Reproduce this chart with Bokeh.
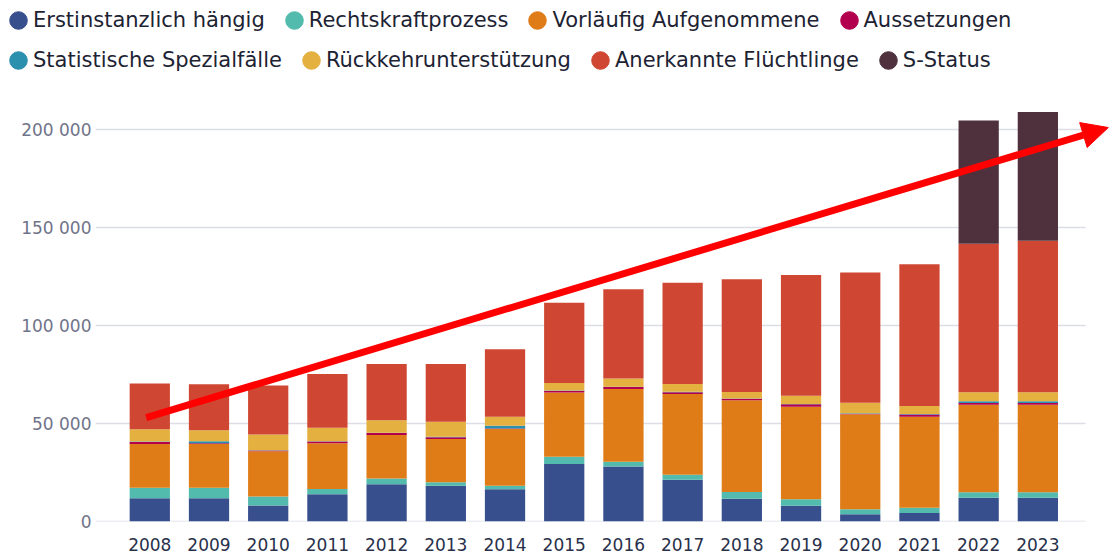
from bokeh.plotting import figure
from bokeh.layouts import column
from bokeh.models import (ColumnDataSource, Legend, LegendItem, FixedTicker, Range1d,
                          Arrow, NormalHead)
from bokeh.embed import file_html
from bokeh.resources import INLINE

years = list(range(2008, 2024))
erstinstanzlich = [11900, 11900, 8200, 13900, 19000, 18200, 16500, 29400, 28100, 21300, 11600, 8000, 3700, 4300, 12100, 12100]
rechtskraft = [5300, 5300, 4600, 2700, 3000, 1800, 1800, 3700, 2400, 2600, 3400, 3400, 2500, 2700, 2800, 2800]
vorlaeufig = [22400, 22400, 23100, 23300, 22100, 22100, 28900, 32700, 37100, 41100, 46800, 47200, 48500, 46400, 44700, 44700]
aussetzungen = [1000, 300, 300, 900, 1000, 900, 300, 800, 1000, 1000, 800, 1200, 300, 1200, 800, 800]
statistische = [200, 1000, 200, 200, 200, 200, 1300, 200, 200, 200, 200, 200, 200, 200, 900, 900]
rueckkehr = [6300, 5600, 8000, 6800, 6400, 7700, 4700, 3900, 4200, 3900, 3300, 4100, 5400, 4100, 4600, 4600]
anerkannte = [23300, 23500, 25000, 27500, 28600, 29400, 34400, 40900, 45500, 51700, 57500, 61700, 66500, 72300, 75800, 77400]
s_status = [0, 0, 0, 0, 0, 0, 0, 0, 0, 0, 0, 0, 0, 0, 62900, 65600]

series_keys = ["erst", "recht", "vorl", "auss", "stat", "rueck", "anerk", "sst"]
series_labels = ["Erstinstanzlich hängig", "Rechtskraftprozess", "Vorläufig Aufgenommene", "Aussetzungen",
                 "Statistische Spezialfälle", "Rückkehrunterstützung", "Anerkannte Flüchtlinge", "S-Status"]
series_colors = ["#384f8d", "#52bbad", "#e07c17", "#b2004e", "#2b8fae", "#e4b03f", "#cf4733", "#4e313d"]

y_ticks = [0, 50000, 100000, 150000, 200000]
y_tick_labels = ["0", "50 000", "100 000", "150 000", "200 000"]

# trend arrow annotation (data units)
arrow_start = (2007.94, 53000)
arrow_end = (2024.19, 201000)

X_START, GRID_END, X_END = 2007.083, 2023.806, 2024.21

source = ColumnDataSource(dict(year=years, erst=erstinstanzlich, recht=rechtskraft, vorl=vorlaeufig,
                               auss=aussetzungen, stat=statistische, rueck=rueckkehr, anerk=anerkannte,
                               sst=s_status))

# ---------- legend figure ----------
LEG_H = 92
lf = figure(width=1109, height=LEG_H, output_backend="svg", toolbar_location=None,
            x_axis_type=None, y_axis_type=None, x_range=Range1d(0, 1), y_range=Range1d(0, 1),
            min_border=0)
lf.frame_align = False
lf.outline_line_color = None
lf.xgrid.grid_line_color = None
lf.ygrid.grid_line_color = None
nan = float("nan")
dummies = [lf.ellipse(x=[nan], y=[nan], width=18, height=18, width_units="screen", height_units="screen",
                      fill_color=c, line_color=c) for c in series_colors]

def make_legend(idx, loc):
    return Legend(items=[LegendItem(label=series_labels[i], renderers=[dummies[i]]) for i in idx],
                  orientation="horizontal", location=loc,
                  label_text_font="DejaVu Sans", label_text_font_size="21px", label_text_color="#1d2333",
                  glyph_width=22, glyph_height=24, label_height=24, label_standoff=4, spacing=18,
                  padding=0, margin=0, border_line_color=None, background_fill_alpha=0)

lf.add_layout(make_legend([0, 1, 2, 3], (7, 60)))
lf.add_layout(make_legend([4, 5, 6, 7], (7, 20)))

# ---------- main chart ----------
p = figure(width=1109, height=555 - LEG_H, output_backend="svg", toolbar_location=None,
           x_range=Range1d(X_START, X_END), y_range=Range1d(0, 214800),
           min_border_left=95, min_border_right=0, min_border_top=8, min_border_bottom=34)
p.frame_align = False
p.outline_line_color = None
p.background_fill_color = "white"

# horizontal grid lines (limited to the chart width)
p.segment(x0=[X_START] * len(y_ticks), x1=[GRID_END] * len(y_ticks), y0=y_ticks, y1=y_ticks,
          line_color="#dcdde6", line_width=1.5)

p.vbar_stack(series_keys, x="year", width=0.68, color=series_colors, source=source, line_color=None)

p.xaxis.ticker = FixedTicker(ticks=years)
p.xaxis.axis_line_color = None
p.xaxis.major_tick_line_color = None
p.xaxis.minor_tick_line_color = None
p.xaxis.major_tick_out = 0
p.xaxis.major_tick_in = 0
p.xaxis.major_label_text_font = "DejaVu Sans"
p.xaxis.major_label_text_font_size = "17px"
p.xaxis.major_label_text_color = "#28304a"
p.xaxis.major_label_standoff = 16

p.yaxis.ticker = FixedTicker(ticks=y_ticks)
p.yaxis.major_label_overrides = {t: l for t, l in zip(y_ticks, y_tick_labels)}
p.yaxis.axis_line_color = None
p.yaxis.major_tick_line_color = None
p.yaxis.minor_tick_line_color = None
p.yaxis.major_tick_out = 0
p.yaxis.major_tick_in = 0
p.yaxis.major_label_text_font = "DejaVu Sans"
p.yaxis.major_label_text_font_size = "17px"
p.yaxis.major_label_text_color = "#70748a"
p.yaxis.major_label_standoff = 4

p.xgrid.grid_line_color = None
p.ygrid.grid_line_color = None

p.add_layout(Arrow(x_start=arrow_start[0], y_start=arrow_start[1], x_end=arrow_end[0], y_end=arrow_end[1],
                   line_color="#ff0000", line_width=7,
                   end=NormalHead(size=26, fill_color="#ff0000", line_color="#ff0000")))

layout = column(lf, p, spacing=0)
open("out.html", "w").write(file_html(layout, INLINE))
